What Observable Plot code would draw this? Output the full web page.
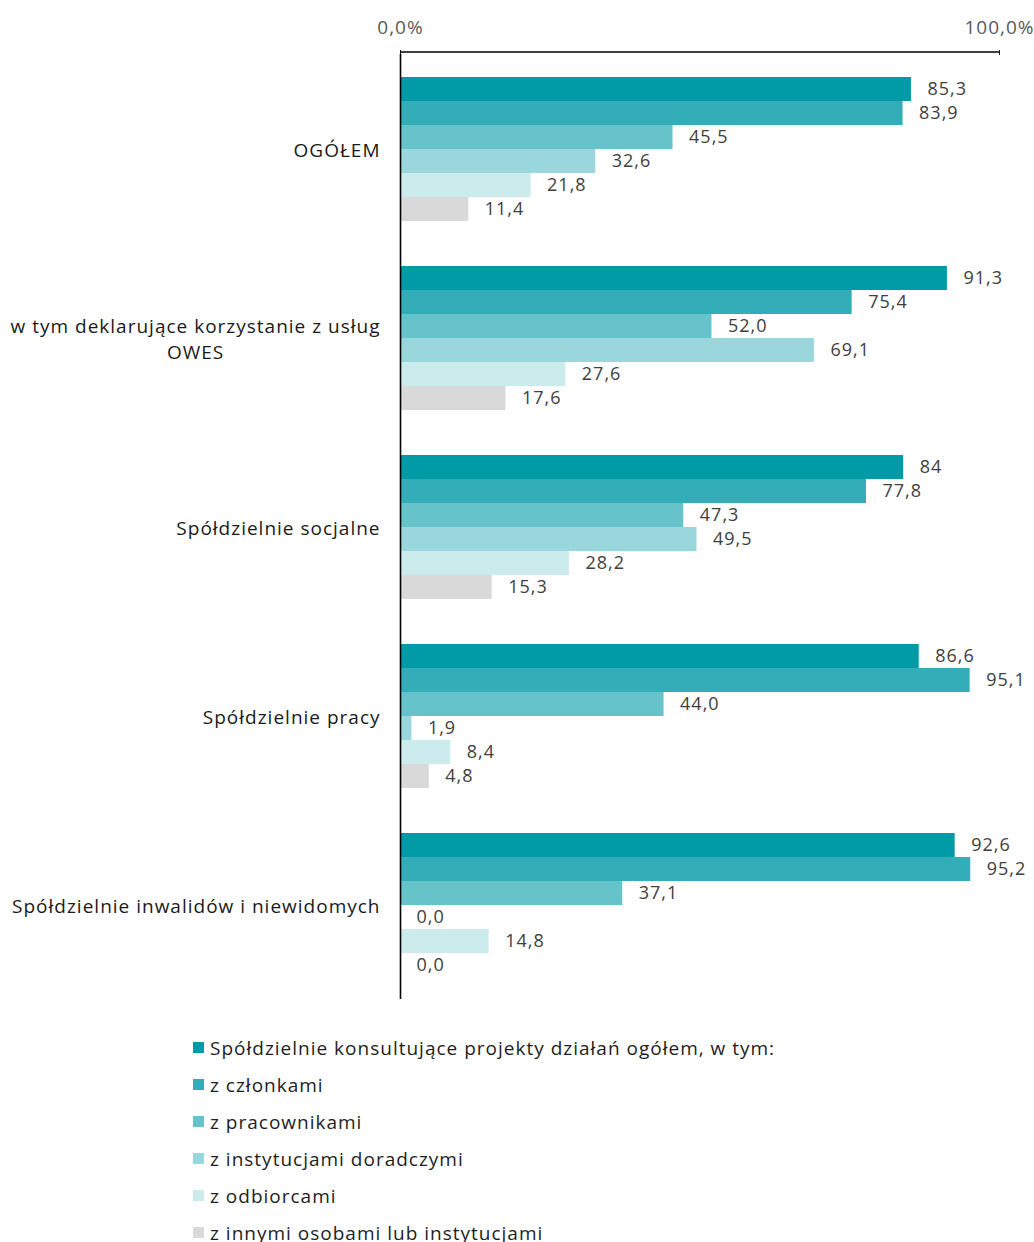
<!DOCTYPE html>
<html><head><meta charset="utf-8">
<script src="https://cdn.jsdelivr.net/npm/d3@7"></script>
<script src="https://cdn.jsdelivr.net/npm/@observablehq/plot@0.6"></script>
<style>
body{margin:0;background:#fff;font-family:"Open Sans",sans-serif;}
#chart svg{display:block}
#legend{margin:18px 0 0 193px;}
.item{display:flex;align-items:center;height:37px;font-size:19px;letter-spacing:1px;color:#1e1e1e}
.sw{width:11px;height:11px;margin-right:6px;flex:none}
</style></head><body><div id="chart"></div><div id="legend"></div>
<script>
const groups = ["OGÓŁEM", "w tym deklarujące korzystanie z usług OWES", "Spółdzielnie socjalne", "Spółdzielnie pracy", "Spółdzielnie inwalidów i niewidomych"];
const groupLabels = ["OGÓŁEM", "w tym deklarujące korzystanie z usług\nOWES", "Spółdzielnie socjalne", "Spółdzielnie pracy", "Spółdzielnie inwalidów i niewidomych"];
const series = ["Spółdzielnie konsultujące projekty działań ogółem, w tym:", "z członkami", "z pracownikami", "z instytucjami doradczymi", "z odbiorcami", "z innymi osobami lub instytucjami"];
const colors = ["#009ba6", "#33aeb8", "#66c3ca", "#99d7dc", "#ccebed", "#d9d9d9"];
const ogolemValues      = [85.3, 91.3, 84, 86.6, 92.6];
const czlonkamiValues   = [83.9, 75.4, 77.8, 95.1, 95.2];
const pracownikValues   = [45.5, 52.0, 47.3, 44.0, 37.1];
const instytucjeValues  = [32.6, 69.1, 49.5, 1.9, 0.0];
const odbiorcyValues    = [21.8, 27.6, 28.2, 8.4, 14.8];
const innymiValues      = [11.4, 17.6, 15.3, 4.8, 0.0];
const seriesValues = [ogolemValues, czlonkamiValues, pracownikValues, instytucjeValues, odbiorcyValues, innymiValues];
// labels shown without a decimal in the original: [group index, series index]
const noDecimalLabels = [[2, 0]];
const xTicks = [0, 100];

const data = [];
groups.forEach((g, gi) => series.forEach((s, si) => {
  const v = seriesValues[si][gi];
  const plain = noDecimalLabels.some(([a, b]) => a === gi && b === si);
  data.push({group: g, series: s, value: v, label: plain ? String(v) : v.toFixed(1).replace(".", ",")});
}));

const FONT = '"Open Sans", sans-serif';
const labelSize = 19;
const LS = 1; // letter spacing px
const ctx = document.createElement("canvas").getContext("2d");
ctx.font = `${labelSize}px ${FONT}`;

const labelMarks = groups.map((g, gi) => {
  const lines = groupLabels[gi].split("\n");
  const w = Math.max(...lines.map(l => ctx.measureText(l).width + LS * l.length));
  return Plot.text([g], {fy: d => d, text: () => groupLabels[gi], frameAnchor: "left", textAnchor: "middle", lineAnchor: "middle", lineHeight: 1.37, dx: -(20 + w / 2), fill: "#1a1a1a", fontSize: labelSize});
});

const plot = Plot.plot({
  width: 1034, height: 1011,
  marginTop: 52, marginBottom: 10, marginLeft: 400, marginRight: 35,
  style: {fontFamily: FONT, fontSize: "19px", color: "#1a1a1a", background: "#fff", letterSpacing: LS + "px"},
  x: {domain: [0, 100], axis: "top", ticks: xTicks, tickFormat: d => d.toFixed(1).replace(".", ",") + "%", tickSize: 5, tickPadding: 16, label: null},
  y: {domain: series, axis: null, paddingInner: 0, paddingOuter: 0.9},
  fy: {domain: groups, axis: null, padding: 0, label: null},
  color: {domain: series, range: colors},
  marks: [
    Plot.barX(data, {fy: "group", y: "series", x: "value", fill: "series"}),
    Plot.text(data, {fy: "group", y: "series", x: "value", text: "label", textAnchor: "start", dx: 16, fill: "#404040", fontSize: 18, ariaLabel: "values"}),
    Plot.ruleX([0], {stroke: "#000", strokeWidth: 1.6}),
    ...labelMarks
  ]
});
const xs = plot.scale("x");
d3.select(plot).append("line")
  .attr("x1", xs.apply(0)).attr("x2", xs.apply(100))
  .attr("y1", 52).attr("y2", 52)
  .attr("stroke", "#000").attr("stroke-width", 1.6);
d3.select(plot).selectAll("g[aria-label='x-axis tick label']").attr("fill", "#595959");
d3.select(plot).selectAll("g[aria-label='values']").style("letter-spacing", "0.5px");
document.getElementById("chart").append(plot);

const legend = d3.select("#legend");
series.forEach((s, i) => {
  const it = legend.append("div").attr("class", "item");
  it.append("div").attr("class", "sw").style("background", colors[i]);
  it.append("span").text(s);
});
</script></body></html>
